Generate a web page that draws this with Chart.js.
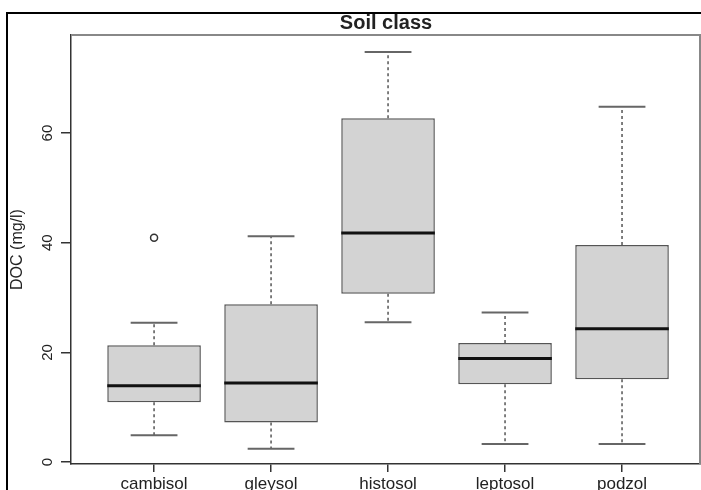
<!DOCTYPE html>
<html>
<head>
<meta charset="utf-8">
<title>DOC by soil class</title>
<script src="https://cdn.jsdelivr.net/npm/chart.js@4.4.1/dist/chart.umd.min.js"></script>
<style>
    html, body { margin: 0; padding: 0; background: #fff; overflow: hidden; }
    #outer-frame {
        position: absolute; left: 6px; top: 12px; width: 2000px; height: 2000px;
        border-left: 2px solid #000; border-top: 2px solid #000;
    }
    #wrap { position: absolute; left: 0; top: 0; width: 701px; height: 490px; }
</style>
</head>
<body>
<div id="outer-frame"></div>
<div id="wrap"><canvas id="boxChart" width="701" height="490"></canvas></div>
<script>
// Boxplot statistics (DOC in mg/l)
const soilClasses = ['cambisol', 'gleysol', 'histosol', 'leptosol', 'podzol'];
const lowerWhisker  = [4.9, 2.4, 25.5, 3.3, 3.3];
const lowerQuartile = [10.9, 7.2, 30.7, 14.2, 15.1];
const medianValues  = [13.9, 14.4, 41.8, 18.9, 24.3];
const upperQuartile = [21.3, 28.8, 62.7, 21.7, 39.6];
const upperWhisker  = [25.4, 41.2, 74.8, 27.3, 64.8];

// Outliers
const outlierClass = ['cambisol'];
const outlierDoc   = [40.9];

const yTicks = [0, 20, 40, 60];

const fontFamily = '"Liberation Sans", Arial, Helvetica, sans-serif';
const ink = '#222';
const boxEdge = '#555';

// build the datasets the library needs
const gap = x => ({ x: x, y: null });

const boxData = soilClasses.map((_, i) => ({ x: i + 1, y: [lowerQuartile[i], upperQuartile[i]] }));

const whiskerData = [];
const capData = [];
const medianData = [];
soilClasses.forEach((_, i) => {
    const x = i + 1;
    whiskerData.push({ x, y: upperQuartile[i] }, { x, y: upperWhisker[i] }, gap(x),
                     { x, y: lowerQuartile[i] }, { x, y: lowerWhisker[i] }, gap(x));
    capData.push({ x: x - 0.2, y: upperWhisker[i] }, { x: x + 0.2, y: upperWhisker[i] }, gap(x),
                 { x: x - 0.2, y: lowerWhisker[i] }, { x: x + 0.2, y: lowerWhisker[i] }, gap(x));
    medianData.push({ x: x - 0.4, y: medianValues[i] }, { x: x + 0.4, y: medianValues[i] }, gap(x));
});

const outlierData = outlierClass.map((c, i) => ({ x: soilClasses.indexOf(c) + 1, y: outlierDoc[i] }));

// top and right sides of the plot box
const plotFrame = {
    id: 'plotFrame',
    afterDraw(chart) {
        const { ctx, chartArea } = chart;
        const right = Math.min(chartArea.right, chart.width) - 1;
        ctx.save();
        ctx.strokeStyle = '#888';
        ctx.lineWidth = 2;
        ctx.beginPath();
        ctx.moveTo(chartArea.left, chartArea.top);
        ctx.lineTo(right, chartArea.top);
        ctx.lineTo(right, chartArea.bottom);
        ctx.stroke();
        ctx.restore();
    }
};

const lineDefaults = {
    type: 'line',
    pointRadius: 0,
    pointHoverRadius: 0,
    fill: false,
    spanGaps: false,
    tension: 0
};

new Chart(document.getElementById('boxChart'), {
    type: 'bar',
    data: {
        datasets: [
            Object.assign({}, lineDefaults, {
                label: 'whiskers',
                data: whiskerData,
                borderColor: boxEdge,
                borderWidth: 1.5,
                borderDash: [3, 3],
                order: 4
            }),
            Object.assign({}, lineDefaults, {
                label: 'caps',
                data: capData,
                borderColor: '#666',
                borderWidth: 2,
                order: 3
            }),
            {
                label: 'boxes',
                data: boxData,
                backgroundColor: '#d3d3d3',
                borderColor: boxEdge,
                borderWidth: 1.5,
                borderSkipped: false,
                categoryPercentage: 0.8,
                barPercentage: 1,
                order: 2
            },
            Object.assign({}, lineDefaults, {
                label: 'median',
                data: medianData,
                borderColor: '#111',
                borderWidth: 3,
                order: 1
            }),
            {
                type: 'scatter',
                label: 'outliers',
                data: outlierData,
                pointStyle: 'circle',
                pointRadius: 3.5,
                pointBackgroundColor: 'rgba(0,0,0,0)',
                pointBorderColor: '#333',
                pointBorderWidth: 1.5,
                order: 0
            }
        ]
    },
    options: {
        responsive: false,
        animation: false,
        // no extra room for point overflow, the plot box runs to the right edge
        layout: { autoPadding: false, padding: 0 },
        plugins: {
            legend: { display: false },
            tooltip: { enabled: false },
            title: {
                display: true,
                text: 'Soil class',
                fullSize: false,
                color: ink,
                font: { family: fontFamily, size: 20, weight: 'bold' },
                padding: { top: 11, bottom: 0 }
            }
        },
        scales: {
            x: {
                type: 'linear',
                min: 0.29,
                max: 5.675,
                offset: false,
                afterBuildTicks: s => { s.ticks = soilClasses.map((_, i) => ({ value: i + 1 })); },
                afterFit: s => { s.height = 26; s.paddingLeft = 0; s.paddingRight = 0; },
                grid: { offset: false, drawOnChartArea: false, drawTicks: true, tickLength: 8, color: '#333', lineWidth: 1.5 },
                border: { display: true, color: '#333', width: 1.5 },
                ticks: {
                    autoSkip: false,
                    maxRotation: 0,
                    padding: 2,
                    color: ink,
                    font: { family: fontFamily, size: 17 },
                    callback: v => soilClasses[v - 1]
                }
            },
            y: {
                min: -0.36,
                max: 77.9,
                afterBuildTicks: s => { s.ticks = yTicks.map(v => ({ value: v })); },
                afterFit: s => { s.width = 71; },
                grid: { drawOnChartArea: false, drawTicks: true, tickLength: 10, color: '#333', lineWidth: 1.5 },
                border: { display: true, color: '#333', width: 1.5 },
                ticks: {
                    minRotation: 90,
                    maxRotation: 90,
                    crossAlign: 'center',
                    padding: 5,
                    color: ink,
                    font: { family: fontFamily, size: 15 }
                },
                title: {
                    display: true,
                    text: 'DOC (mg/l)',
                    color: ink,
                    font: { family: fontFamily, size: 16 },
                    padding: { top: 8, bottom: 0 }
                }
            }
        }
    },
    plugins: [plotFrame]
});
</script>
</body>
</html>
